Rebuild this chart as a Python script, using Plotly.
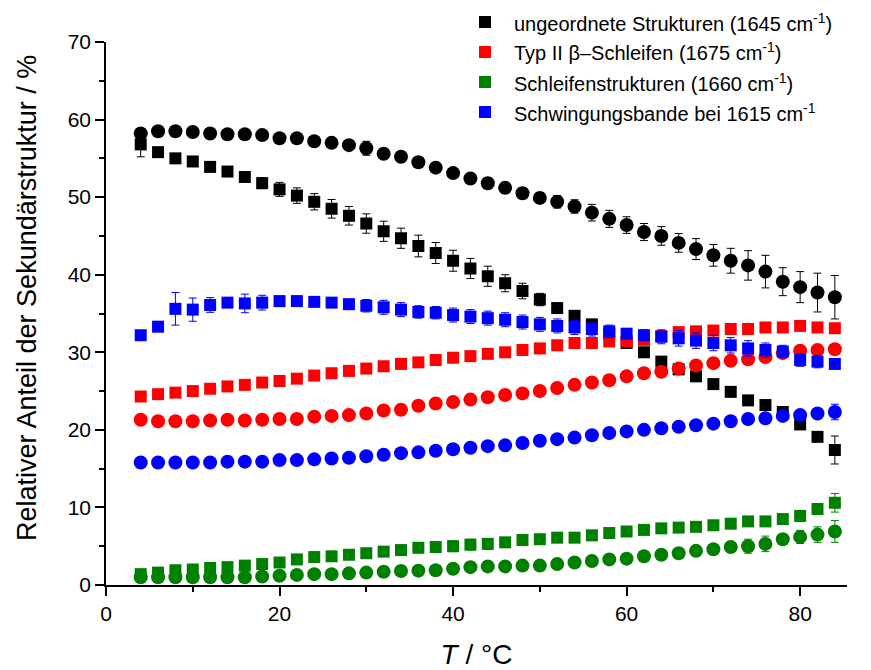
import plotly.graph_objects as go

# Temperature steps (°C)
T = [4, 6, 8, 10, 12, 14, 16, 18, 20, 22, 24, 26, 28, 30, 32, 34, 36, 38, 40, 42,
     44, 46, 48, 50, 52, 54, 56, 58, 60, 62, 64, 66, 68, 70, 72, 74, 76, 78, 80, 82, 84]

# ungeordnete Strukturen (1645 cm-1)
black_sq = [56.8, 55.8, 55.0, 54.6, 53.9, 53.3, 52.6, 51.8, 51.0, 50.2, 49.4, 48.5, 47.6, 46.6,
            45.6, 44.7, 43.7, 42.8, 41.8, 40.8, 39.8, 38.9, 37.9, 36.8, 35.7, 34.7, 33.6, 32.4,
            31.2, 30.0, 28.8, 27.8, 26.9, 25.9, 24.9, 23.8, 23.2, 22.3, 20.7, 19.1, 17.4]
black_sq_err = [1.6, 0.3, 0.3, 0.3, 0.3, 0.4, 0.5, 0.7, 0.9, 1.0, 1.05, 1.2, 1.2, 1.25, 1.3, 1.3,
                1.4, 1.35, 1.35, 1.3, 1.3, 1.1, 1.0, 0.8, 0.6, 0.5, 0.4, 0.3, 0.3, 0.3, 0.3, 0.3,
                0.3, 0.3, 0.3, 0.3, 0.3, 0.3, 0.4, 0.5, 1.8]
black_ci = [58.2, 58.5, 58.5, 58.4, 58.2, 58.1, 58.1, 58.0, 57.6, 57.6, 57.2, 57.0, 56.7, 56.3,
            55.6, 55.2, 54.5, 53.8, 53.1, 52.4, 51.8, 51.2, 50.5, 49.9, 49.4, 48.8, 48.0, 47.2,
            46.4, 45.5, 45.0, 44.1, 43.3, 42.5, 41.8, 41.2, 40.4, 39.1, 38.4, 37.7, 37.1]
black_ci_err = [0.3, 0.3, 0.3, 0.3, 0.3, 0.3, 0.3, 0.3, 0.3, 0.3, 0.3, 0.3, 0.5, 0.9, 0.5, 0.5,
                0.5, 0.5, 0.6, 0.6, 0.7, 0.7, 0.7, 0.7, 0.8, 0.86, 1.07, 1.1, 1.07, 1.1, 1.2, 1.2,
                1.35, 1.4, 1.6, 1.9, 2.1, 1.8, 2.0, 2.5, 2.8]

# Typ II beta-Schleifen (1675 cm-1)
red_sq = [24.3, 24.6, 24.8, 25.0, 25.3, 25.6, 25.8, 26.1, 26.3, 26.6, 27.0, 27.3, 27.6, 27.9,
          28.2, 28.5, 28.7, 29.0, 29.3, 29.5, 29.8, 30.0, 30.3, 30.5, 30.9, 31.2, 31.2, 31.4,
          31.4, 31.6, 32.1, 32.6, 32.7, 32.8, 33.0, 33.0, 33.2, 33.2, 33.4, 33.2, 33.1]
red_sq_err = [0.3] * 27 + [0.4, 0.4, 0.4] + [0.3] * 11
red_ci = [21.3, 21.1, 21.1, 21.1, 21.2, 21.3, 21.2, 21.3, 21.4, 21.4, 21.7, 21.8, 21.9, 22.1,
          22.5, 22.6, 23.1, 23.4, 23.6, 23.9, 24.2, 24.5, 24.7, 25.0, 25.4, 25.8, 26.1, 26.4,
          26.9, 27.3, 27.5, 27.9, 28.3, 28.6, 28.9, 29.1, 29.4, 29.9, 30.2, 30.3, 30.4]
red_ci_err = [0.3] * 41

# Schleifenstrukturen (1660 cm-1)
green_sq = [1.4, 1.6, 1.9, 2.0, 2.2, 2.3, 2.5, 2.7, 2.9, 3.3, 3.6, 3.7, 3.9, 4.1, 4.3, 4.5,
            4.8, 4.9, 5.0, 5.2, 5.3, 5.5, 5.8, 5.9, 6.1, 6.1, 6.4, 6.7, 6.9, 7.1, 7.3, 7.4,
            7.5, 7.7, 7.9, 8.2, 8.2, 8.5, 8.9, 9.8, 10.6]
green_sq_err = [0.3] * 15 + [0.5, 0.6, 0.6, 0.7, 0.7, 0.7, 0.6, 0.5, 0.5] + [0.3] * 16 + [1.2]
green_ci = [1.0, 1.0, 1.0, 1.0, 1.0, 1.0, 1.0, 1.1, 1.2, 1.3, 1.4, 1.4, 1.5, 1.6, 1.7, 1.8,
            1.85, 1.9, 2.1, 2.3, 2.4, 2.4, 2.5, 2.5, 2.7, 2.9, 3.1, 3.3, 3.4, 3.7, 3.9, 4.1,
            4.4, 4.6, 4.9, 5.0, 5.3, 5.9, 6.2, 6.5, 6.9]
green_ci_err = [0.3] * 33 + [0.5, 0.6, 0.9, 1.0, 0.5, 0.85, 1.0, 1.4]

# Schwingungsbande bei 1615 cm-1
blue_sq = [32.2, 33.3, 35.6, 35.5, 36.1, 36.4, 36.3, 36.4, 36.6, 36.6, 36.5, 36.4, 36.2, 36.0,
           35.8, 35.5, 35.2, 35.1, 34.8, 34.6, 34.4, 34.2, 33.9, 33.6, 33.4, 33.2, 33.0, 32.7,
           32.4, 32.2, 32.0, 31.8, 31.5, 31.2, 30.9, 30.5, 30.3, 30.1, 29.0, 28.8, 28.5]
blue_sq_err = [0.3, 0.3, 2.1, 1.5, 0.95, 0.4, 1.2, 0.95, 0.4, 0.4, 0.4, 0.5, 0.6, 0.8, 0.9, 0.9,
               0.8, 0.8, 0.9, 0.9, 0.9, 0.9, 0.9, 0.9, 0.9, 0.9, 0.9, 0.8, 0.6, 0.7, 0.9, 1.0,
               1.0, 1.0, 1.0, 1.0, 0.9, 0.8, 0.8, 0.8, 0.6]
blue_ci = [15.8, 15.8, 15.8, 15.8, 15.8, 15.9, 15.9, 15.9, 16.1, 16.1, 16.2, 16.3, 16.4, 16.6,
           16.8, 17.0, 17.1, 17.3, 17.5, 17.7, 17.9, 18.0, 18.3, 18.6, 18.8, 19.0, 19.3, 19.6,
           19.8, 20.0, 20.2, 20.4, 20.6, 20.8, 21.1, 21.4, 21.5, 21.8, 21.9, 22.1, 22.3]
blue_ci_err = [0.3] * 38 + [0.5, 0.6, 1.0]

legend_labels = [
    "ungeordnete Strukturen (1645 cm<sup>-1</sup>)",
    "Typ II \u03b2\u2013Schleifen (1675 cm<sup>-1</sup>)",
    "Schleifenstrukturen (1660 cm<sup>-1</sup>)",
    "Schwingungsbande bei 1615 cm<sup>-1</sup>",
]
colors = ["#000000", "#ff0000", "#008000", "#0000ff"]

series = [
    (black_sq, black_sq_err, black_ci, black_ci_err),
    (red_sq, red_sq_err, red_ci, red_ci_err),
    (green_sq, green_sq_err, green_ci, green_ci_err),
    (blue_sq, blue_sq_err, blue_ci, blue_ci_err),
]

fig = go.Figure()
for name, color, (ysq, esq, yci, eci) in zip(legend_labels, colors, series):
    fig.add_trace(go.Scatter(
        x=T, y=ysq, mode="markers", name=name,
        marker=dict(symbol="square", size=12, color=color, line=dict(width=0)),
        error_y=dict(type="data", array=esq, color=color, thickness=1, width=4),
    ))
    fig.add_trace(go.Scatter(
        x=T, y=yci, mode="markers", name=name,
        marker=dict(symbol="circle", size=14, color=color, line=dict(width=0)),
        error_y=dict(type="data", array=eci, color=color, thickness=1, width=4),
    ))

# Legend block above the top-right corner of the plot (paper coordinates)
plot_w, plot_h = 741.0, 543.0
key_x = (485 - 106) / plot_w
text_x = (512 - 106) / plot_w
half_w = 6 / plot_w
half_h = 6 / plot_h
for k, (label, color) in enumerate(zip(legend_labels, colors)):
    yc = (585 - (22 + 30 * k)) / plot_h
    fig.add_shape(type="rect", xref="paper", yref="paper",
                  x0=key_x - half_w, x1=key_x + half_w,
                  y0=yc - half_h, y1=yc + half_h,
                  fillcolor=color, line=dict(width=0))
    fig.add_annotation(xref="paper", yref="paper", x=text_x, y=yc,
                       xanchor="left", yanchor="middle", showarrow=False,
                       text=label, font=dict(size=20, color="#000"))

# Rotated y-axis title, placed as a free annotation left of the tick labels
fig.add_annotation(xref="paper", yref="paper",
                   x=(27 - 106) / plot_w, y=(585 - 298) / plot_h,
                   xanchor="center", yanchor="middle", showarrow=False,
                   textangle=-90,
                   text="Relativer Anteil der Sekundärstruktur / %",
                   font=dict(size=27, color="#000"))

axis_font = dict(family="Liberation Sans, Arial, sans-serif", size=21, color="#000")

fig.update_layout(
    width=871, height=670,
    margin=dict(l=106, r=24, t=42, b=85),
    paper_bgcolor="white", plot_bgcolor="white",
    font=dict(family="Liberation Sans, Arial, sans-serif", color="#000"),
    showlegend=False,
    xaxis=dict(
        range=[0, 85.4], showgrid=False, zeroline=False, automargin=False,
        showline=True, linecolor="#000", linewidth=1.5,
        ticks="outside", ticklen=9, tickwidth=1.5, tickcolor="#000",
        tickvals=[0, 20, 40, 60, 80], tickfont=axis_font,
        minor=dict(tickvals=[10, 30, 50, 70], ticks="outside", ticklen=5,
                   tickwidth=1.5, tickcolor="#000", showgrid=False),
        title=dict(text="<i>T</i> / °C", font=dict(size=28), standoff=20),
    ),
    yaxis=dict(
        range=[0, 70], showgrid=False, zeroline=False, automargin=False,
        showline=True, linecolor="#000", linewidth=1.5,
        ticks="outside", ticklen=9, tickwidth=1.5, tickcolor="#000",
        dtick=10, tickfont=axis_font,
        minor=dict(dtick=5, ticks="outside", ticklen=5,
                   tickwidth=1.5, tickcolor="#000", showgrid=False),
    ),
)

fig.write_html("out.html")
